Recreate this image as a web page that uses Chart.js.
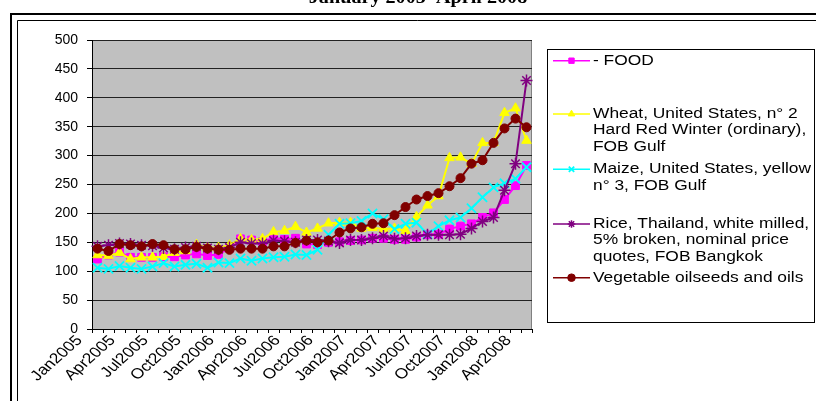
<!DOCTYPE html>
<html><head><meta charset="utf-8">
<script src="https://cdn.jsdelivr.net/npm/chart.js@4/dist/chart.umd.min.js"></script>
<style>html,body{margin:0;padding:0;background:#fff;overflow:hidden}canvas{display:block}</style>
</head><body>
<canvas id="c" width="816" height="401"></canvas>
<script>
const months = ['Jan2005','Feb2005','Mar2005','Apr2005','May2005','Jun2005','Jul2005','Aug2005','Sep2005','Oct2005','Nov2005','Dec2005',
'Jan2006','Feb2006','Mar2006','Apr2006','May2006','Jun2006','Jul2006','Aug2006','Sep2006','Oct2006','Nov2006','Dec2006',
'Jan2007','Feb2007','Mar2007','Apr2007','May2007','Jun2007','Jul2007','Aug2007','Sep2007','Oct2007','Nov2007','Dec2007',
'Jan2008','Feb2008','Mar2008','Apr2008'];
const shownTickLabels = ['Jan2005','Apr2005','Jul2005','Oct2005','Jan2006','Apr2006','Jul2006','Oct2006','Jan2007','Apr2007','Jul2007','Oct2007','Jan2008','Apr2008'];
const yTicks = [0,50,100,150,200,250,300,350,400,450,500];

const food  = [121,128,133,124,124,124,125,125,128,130,127,129,140,156,154,151,158,155,157,147,146,150,151,153,154,157,157,155,155,159,163,164,173,178,182,193,201,224,248,283];
const wheat = [128,127,132,121,124,124,125,132,135,146,141,141,145,156,154,156,168,170,177,167,174,183,184,184,174,175,173,174,170,194,214,230,296,297,286,322,322,374,382,326];
const maize = [106,104,109,106,104,108,114,108,111,113,106,115,114,122,118,122,124,125,129,128,137,163,182,183,187,200,190,173,182,184,164,178,188,193,209,228,245,252,260,280];
const rice  = [143,145,148,147,145,144,140,138,141,143,140,138,141,150,148,148,153,152,150,154,154,152,149,154,154,157,161,156,157,161,163,163,163,164,174,186,193,240,286,430];
const veg   = [139,135,147,145,143,147,145,138,138,142,139,137,137,139,139,139,143,143,149,153,150,153,167,174,176,182,183,197,211,224,230,235,247,261,286,292,322,347,364,349];

const legendFood  = ['- FOOD'];
const legendWheat = ['Wheat, United States, n\u00b0 2','Hard Red Winter (ordinary),','FOB Gulf'];
const legendMaize = ['Maize, United States, yellow','n\u00b0 3, FOB Gulf'];
const legendRice  = ['Rice, Thailand, white milled,','5% broken, nominal price','quotes, FOB Bangkok'];
const legendVeg   = ['Vegetable oilseeds and oils'];
const titleText = 'January 2005\u2013April 2008';

const STRETCH = 1.24; // horizontal stretch of the reference's text

function ds(label, data, color, style, radius, order, extra) {
  return Object.assign({
    label: label.join(' '), legendLines: label, data, borderColor: color, backgroundColor: color,
    pointStyle: style, pointRadius: radius, pointBorderColor: color, pointBackgroundColor: color,
    pointBorderWidth: 1, borderWidth: 2, tension: 0, order, fill: false
  }, extra || {});
}

const datasets = [
  ds(legendFood, food, '#FF00FF', 'rect', 5.5, 5),
  ds(legendWheat, wheat, '#FFFF00', 'triangle', 5.5, 4),
  ds(legendMaize, maize, '#00FFFF', 'crossRot', 6.5, 3, {pointBorderWidth: 1.8}),
  ds(legendRice, rice, '#800080', 'star', 6, 2, {pointBorderWidth: 1.5}),
  ds(legendVeg, veg, '#800000', 'circle', 4.5, 1)
];

const decor = {
  id: 'decor',
  beforeDraw(chart) {
    const ctx = chart.ctx, a = chart.chartArea;
    ctx.save();
    ctx.fillStyle = '#fff';
    ctx.fillRect(0, 0, chart.width, chart.height);
    ctx.strokeStyle = '#000';
    ctx.lineWidth = 2;
    ctx.beginPath(); ctx.moveTo(11, 420); ctx.lineTo(11, 14); ctx.lineTo(830, 14); ctx.stroke();
    ctx.lineWidth = 1;
    ctx.beginPath(); ctx.moveTo(17.5, 420); ctx.lineTo(17.5, 20.5); ctx.lineTo(830, 20.5); ctx.stroke();
    ctx.fillStyle = '#C0C0C0';
    ctx.fillRect(a.left, a.top, a.right - a.left, a.bottom - a.top);
    ctx.strokeStyle = '#808080';
    ctx.strokeRect(a.left + 0.5, a.top + 0.5, a.right - a.left - 1, a.bottom - a.top);
    ctx.fillStyle = '#000';
    ctx.font = 'bold 18px "Liberation Serif", "Times New Roman", serif';
    ctx.textAlign = 'center';
    ctx.textBaseline = 'alphabetic';
    ctx.translate(418, 3);
    ctx.scale(1.12, 1);
    ctx.fillText(titleText, 0, 0);
    ctx.restore();
  },
  afterDraw(chart) {
    const ctx = chart.ctx;
    ctx.save();
    // x tick labels, placed by the category scale
    const xs = chart.scales.x;
    ctx.fillStyle = '#000';
    ctx.font = '14.5px "Liberation Sans", Arial, sans-serif';
    ctx.textAlign = 'right';
    ctx.textBaseline = 'middle';
    months.forEach((m, i) => {
      if (!shownTickLabels.includes(m)) return;
      const x = xs.getPixelForValue(i) - 18;
      ctx.save();
      ctx.translate(x, xs.top + 9);
      ctx.transform(1.2, 0, 0, 1, 0, 0);
      ctx.rotate(-47 * Math.PI / 180);
      ctx.fillText(m, 0, 0);
      ctx.restore();
    });
    // legend box
    ctx.strokeStyle = '#000';
    ctx.lineWidth = 1;
    ctx.strokeRect(547.5, 49.5, 267, 273);
    const rowY = [60.7, 114, 169.3, 224, 277.7];
    const lh = 16.6;
    ctx.font = '14px "Liberation Sans", Arial, sans-serif';
    ctx.textAlign = 'left';
    ctx.textBaseline = 'middle';
    chart.data.datasets.forEach((d, i) => {
      const y = rowY[i];
      ctx.strokeStyle = d.borderColor;
      ctx.lineWidth = 1.6;
      ctx.beginPath(); ctx.moveTo(553, y); ctx.lineTo(590, y); ctx.stroke();
      ctx.fillStyle = d.borderColor;
      ctx.lineWidth = d.pointBorderWidth;
      Chart.helpers.drawPoint(ctx, {pointStyle: d.pointStyle, radius: 3.8, rotation: 0, borderWidth: d.pointBorderWidth}, 571.5, y);
      ctx.fillStyle = '#000';
      d.legendLines.forEach((t, k) => {
        ctx.save();
        ctx.translate(593, y + k * lh);
        ctx.scale(STRETCH, 1);
        ctx.fillText(t, 0, 0);
        ctx.restore();
      });
    });
    ctx.restore();
  }
};

new Chart(document.getElementById('c'), {
  type: 'line',
  data: { labels: months, datasets },
  options: {
    responsive: false, animation: false, devicePixelRatio: 1,
    layout: { padding: { left: 0, top: 40, right: 284, bottom: 0 } },
    plugins: { legend: { display: false }, tooltip: { enabled: false }, title: { display: false } },
    elements: { line: { borderJoinStyle: 'round' } },
    scales: {
      x: {
        type: 'category', offset: true,
        grid: { offset: true, drawOnChartArea: false, drawTicks: true, tickLength: 4, color: '#000', tickColor: '#000' },
        border: { display: true, color: '#000', width: 1 },
        ticks: { autoSkip: false, maxRotation: 0, minRotation: 0, callback: () => '' },
        afterFit(s) { s.height = 72; }
      },
      y: {
        min: 0, max: 500,
        afterBuildTicks(s) { s.ticks = yTicks.map(v => ({ value: v })); },
        grid: { color: '#222', lineWidth: 1, drawTicks: true, tickLength: 5, tickColor: '#000' },
        border: { display: true, color: '#000', width: 1 },
        ticks: { padding: 9, color: '#000', font: { family: '"Liberation Sans", Arial, sans-serif', size: 14 } },
        afterFit(s) { s.width = 92; }
      }
    }
  },
  plugins: [decor]
});
</script>
</body></html>
